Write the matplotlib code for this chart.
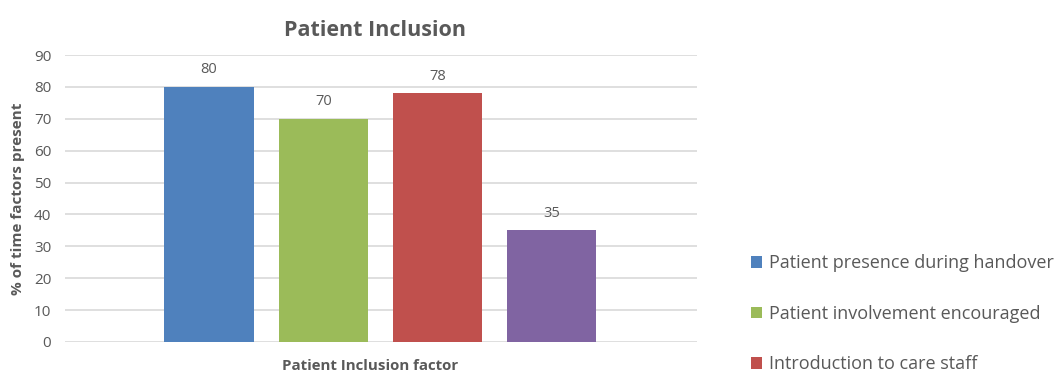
import numpy as np
import matplotlib
matplotlib.use("Agg")
import matplotlib.pyplot as plt
from matplotlib.patches import Patch

plt.rcParams["font.family"] = ["Open Sans", "DejaVu Sans"]

factors = [
    "Patient presence during handover",
    "Patient involvement encouraged",
    "Introduction to care staff",
    "Other",
]
values = [80, 70, 78, 35]
colors = ["#4F81BD", "#9BBB59", "#C0504D", "#8064A2"]
yticks = [0, 10, 20, 30, 40, 50, 60, 70, 80, 90]

text_col = "#595959"

fig = plt.figure(figsize=(10.56, 3.81), dpi=100)
ax = fig.add_axes([0.0616, 0.1024, 0.5985, 0.7532])

x = np.arange(len(values))
bars = ax.bar(x, values, width=0.78, color=colors, zorder=2)
for b, v in zip(bars, values):
    ax.text(b.get_x() + b.get_width() / 2, v + 3, str(v), ha="center", va="bottom",
            fontsize=10.5, color=text_col)

ax.set_xlim(-1.26, 4.27)
ax.set_ylim(0, 90)
ax.set_yticks(yticks)
ax.set_xticks([])
ax.grid(axis="y", color="#D9D9D9", linewidth=1.2, zorder=0)
for s in ax.spines.values():
    s.set_visible(False)
ax.tick_params(axis="y", length=0, labelsize=11, labelcolor=text_col, pad=10)

ax.set_title("Patient Inclusion", fontsize=15.5, fontweight="bold", color=text_col,
             pad=14, x=0.49)
ax.set_ylabel("% of time factors present", fontsize=11, fontweight="bold", color=text_col, labelpad=6)
ax.set_xlabel("Patient Inclusion factor", fontsize=10.8, fontweight="bold", color=text_col, labelpad=9)
ax.xaxis.set_label_coords(0.483, -0.06)

handles = [Patch(facecolor=c) for c in colors[:3]]
fig.legend(handles, factors[:3], loc="upper left", bbox_to_anchor=(0.696, 0.375),
           frameon=False, fontsize=13, labelcolor=text_col, handlelength=0.6,
           handleheight=0.6, handletextpad=0.4, labelspacing=1.8)

fig.savefig("out.png", dpi=100)
